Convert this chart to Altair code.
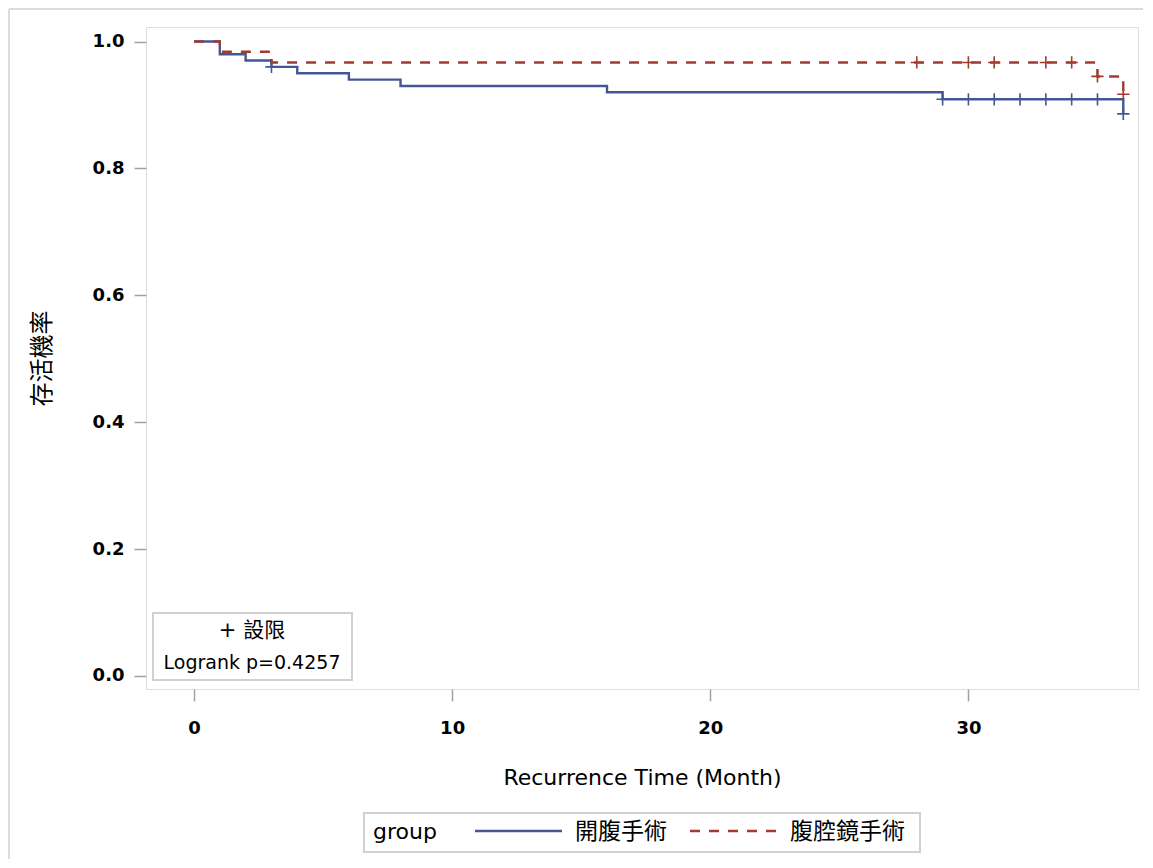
import altair as alt
import pandas as pd

# ---------------- data ----------------
groups = ["開腹手術", "腹腔鏡手術"]
colors = ["#445694", "#A23A2E"]
dashes = [[1, 0], [10, 9]]

# Kaplan-Meier step points (time in months, survival probability)
open_time = [0, 1, 2, 3, 4, 6, 8, 16, 29, 36]
open_surv = [1.0, 0.980, 0.970, 0.960, 0.950, 0.940, 0.930, 0.920, 0.909, 0.886]
lap_time = [0, 1, 3, 35, 36]
lap_surv = [1.0, 0.984, 0.967, 0.945, 0.917]

# censored observations
open_cens_time = [3, 29, 30, 31, 32, 33, 34, 35, 36]
open_cens_surv = [0.960, 0.909, 0.909, 0.909, 0.909, 0.909, 0.909, 0.909, 0.886]
lap_cens_time = [28, 30, 31, 33, 34, 35, 36]
lap_cens_surv = [0.967, 0.967, 0.967, 0.967, 0.967, 0.945, 0.917]

x_ticks = [0, 10, 20, 30]
y_ticks = [0.0, 0.2, 0.4, 0.6, 0.8, 1.0]
x_domain = [-1.86, 36.57]
y_domain = [-0.0205, 1.0229]

x_title = "Recurrence Time (Month)"
y_title = "存活機率"
legend_title = "group"
note_lines = ["+ 設限", "Logrank p=0.4257"]

# ---------------- tables ----------------
curve_df = pd.concat([
    pd.DataFrame({"time": open_time, "surv": open_surv, "group": groups[0]}),
    pd.DataFrame({"time": lap_time, "surv": lap_surv, "group": groups[1]}),
])
cens_df = pd.concat([
    pd.DataFrame({"time": open_cens_time, "surv": open_cens_surv, "group": groups[0]}),
    pd.DataFrame({"time": lap_cens_time, "surv": lap_cens_surv, "group": groups[1]}),
])

LATIN = "DejaVu Sans"
CJK = "Noto Sans CJK TC"
W, H = 992, 662

xscale = alt.Scale(domain=x_domain, nice=False, zero=False)
yscale = alt.Scale(domain=y_domain, nice=False, zero=False)

xaxis = alt.Axis(values=x_ticks, title=x_title, domain=False, grid=False,
                 tickSize=12, tickColor="#a0a0a0", tickWidth=1.5,
                 labelFont=LATIN, labelFontSize=18, labelFontWeight="bold",
                 labelColor="black", labelPadding=18, labelFlush=False,
                 titleFont=LATIN, titleFontSize=22, titleFontWeight="normal",
                 titleColor="black", titleY=88, titleBaseline="middle")
yaxis = alt.Axis(values=y_ticks, title=y_title, format=".1f", domain=False, grid=False,
                 tickSize=12, tickColor="#a0a0a0", tickWidth=1.5,
                 labelFont=LATIN, labelFontSize=18, labelFontWeight="bold",
                 labelColor="black", labelPadding=10, labelFlush=False,
                 titleFont=CJK, titleFontSize=24, titleFontWeight="normal",
                 titleColor="black", titleX=-104, titleY=H / 2, titleAngle=270,
                 titleAlign="center", titleBaseline="middle")

color_scale = alt.Scale(domain=groups, range=colors)
dash_scale = alt.Scale(domain=groups, range=dashes)

lines = alt.Chart(curve_df).mark_line(interpolate="step-after", strokeWidth=2.4).encode(
    x=alt.X("time:Q", scale=xscale, axis=xaxis),
    y=alt.Y("surv:Q", scale=yscale, axis=yaxis),
    color=alt.Color("group:N", scale=color_scale, legend=None),
    strokeDash=alt.StrokeDash("group:N", scale=dash_scale, legend=None),
)

plus = "M-1,0H1M0,-1V1"
cens = alt.Chart(cens_df).mark_point(shape=plus, size=150, strokeWidth=1.6,
                                     filled=False, opacity=1).encode(
    x=alt.X("time:Q", scale=xscale, axis=xaxis),
    y=alt.Y("surv:Q", scale=yscale, axis=yaxis),
    color=alt.Color("group:N", scale=color_scale, legend=None),
)

one = pd.DataFrame({"k": [0]})

# faint outer frame of the figure (left and top edges visible)
outer_left = alt.Chart(one).mark_rule(color="#dcdcdc", strokeWidth=2).encode(
    x=alt.value(-137), y=alt.value(-18), y2=alt.value(832))
outer_top = alt.Chart(one).mark_rule(color="#dcdcdc", strokeWidth=2).encode(
    x=alt.value(-137), x2=alt.value(1000), y=alt.value(-18))

# inset note box (bottom-left of the plot)
note_df = pd.DataFrame({"line": note_lines})
note_box = alt.Chart(one).mark_rect(
    fill="white", stroke="#d0d0d0", strokeWidth=2).encode(
    x=alt.value(7), x2=alt.value(206), y=alt.value(586), y2=alt.value(653))
note_text1 = alt.Chart(note_df.iloc[[0]]).mark_text(
    font=f"{LATIN}, {CJK}", fontSize=21, color="black", align="center",
    baseline="middle").encode(text="line:N", x=alt.value(106), y=alt.value(604))
note_text2 = alt.Chart(note_df.iloc[[1]]).mark_text(
    font=LATIN, fontSize=19, color="black", align="center",
    baseline="middle").encode(text="line:N", x=alt.value(106), y=alt.value(636))

# legend below the plot (drawn as marks so its line samples can be long)
LEG_Y = 805
leg_box = alt.Chart(one).mark_rect(
    fill="white", stroke="#d0d0d0", strokeWidth=2).encode(
    x=alt.value(218), x2=alt.value(774), y=alt.value(786), y2=alt.value(825))
leg_title = alt.Chart(pd.DataFrame({"t": [legend_title]})).mark_text(
    font=LATIN, fontSize=22, color="black", align="left", baseline="middle").encode(
    text="t:N", x=alt.value(227), y=alt.value(LEG_Y))
sym_x = [329, 544]
sym_len = 87
label_gap = 13
leg_layers = []
for i, g in enumerate(groups):
    leg_layers.append(
        alt.Chart(one).mark_rule(strokeWidth=2.4, color=colors[i], strokeDash=dashes[i]).encode(
            x=alt.value(sym_x[i]), x2=alt.value(sym_x[i] + sym_len), y=alt.value(LEG_Y - 1)))
    leg_layers.append(
        alt.Chart(pd.DataFrame({"group": [g]})).mark_text(
            font=CJK, fontSize=23, color="black", align="left", baseline="middle").encode(
            text="group:N", x=alt.value(sym_x[i] + sym_len + label_gap), y=alt.value(LEG_Y)))

chart = alt.layer(outer_left, outer_top, lines, cens, note_box, note_text1, note_text2,
                  leg_box, leg_title, *leg_layers).properties(
    width=W, height=H,
    autosize=alt.AutoSizeParams(type="none"),
    padding={"left": 138, "top": 19, "right": 5, "bottom": 170},
).configure_view(stroke="#a0a0a0", strokeWidth=2).configure(background="white")

chart.save("out.html", embed_options={"renderer": "svg", "actions": False})
